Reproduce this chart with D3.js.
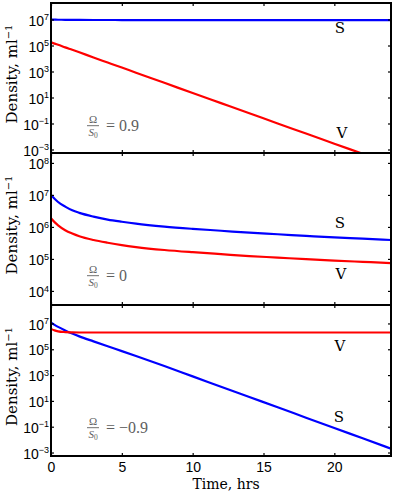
<!DOCTYPE html>
<html>
<head>
<meta charset="utf-8">
<script src="https://cdn.jsdelivr.net/npm/d3@7"></script>
<style>
  body { margin: 0; background: #fff; }
  svg { display: block; font-family: "DejaVu Serif", "Liberation Serif", serif; }
</style>
</head>
<body>
<div id="chart-area"></div>
<script>
// Time points (hrs)
var times = [0, 0.25, 0.5, 1, 1.5, 2, 3, 4, 5, 6, 8, 10, 12, 14, 16, 18, 20, 22, 24];

// Omega/S0 = 0.9
var s_pos = [1.0e7, 9.8e6, 9.6e6, 9.5e6, 9.4e6, 9.3e6, 9.2e6, 9.2e6, 9.1e6, 9.1e6, 9.0e6, 9.0e6, 9.0e6, 9.0e6, 9.0e6, 9.0e6, 9.0e6, 9.0e6, 9.0e6];
var v_pos = [1.8e5, 1.4e5, 1.15e5, 7.2e4, 4.7e4, 3.0e4, 1.2e4, 4.9e3, 2.0e3, 8.1e2, 1.35e2, 22, 3.7, 0.62, 0.10, 0.017, 2.8e-3, 4.7e-4, 7.8e-5];

// Omega/S0 = 0
var s_zero = [1.0e7, 7.6e6, 6.0e6, 4.3e6, 3.3e6, 2.75e6, 2.1e6, 1.7e6, 1.45e6, 1.26e6, 1.02e6, 8.7e5, 7.6e5, 6.6e5, 5.9e5, 5.25e5, 4.7e5, 4.3e5, 3.9e5];
var v_zero = [1.86e6, 1.41e6, 1.12e6, 7.9e5, 6.2e5, 5.1e5, 3.9e5, 3.2e5, 2.7e5, 2.35e5, 1.9e5, 1.62e5, 1.41e5, 1.23e5, 1.1e5, 9.8e4, 8.9e4, 8.1e4, 7.4e4];

// Omega/S0 = -0.9
var s_neg = [1.15e7, 7.8e6, 5.4e6, 2.9e6, 1.65e6, 1.0e6, 4.1e5, 1.7e5, 7.2e4, 3.0e4, 5.0e3, 7.9e2, 1.26e2, 20, 3.2, 0.5, 0.079, 0.0126, 0.002];
var v_neg = [3.8e6, 2.9e6, 2.45e6, 2.15e6, 2.05e6, 2.0e6, 2.0e6, 2.0e6, 2.0e6, 2.0e6, 2.0e6, 2.0e6, 2.0e6, 2.0e6, 2.0e6, 2.0e6, 2.0e6, 2.0e6, 2.0e6];

var ratios = ["0.9", "0", "\u22120.9"];
var xTicks = [0, 5, 10, 15, 20];

var width = 395, height = 494;
var left = 51, right = 391;

var panels = [
  {top: 3,   bottom: 153, lo: -3.27, hi: 8.27, exps: [-3, -1, 1, 3, 5, 7], S: s_pos,  V: v_pos,  sLab: [340, 33], vLab: [342, 138]},
  {top: 153, bottom: 305, lo: 3.56,  hi: 8.31, exps: [4, 5, 6, 7, 8],      S: s_zero, V: v_zero, sLab: [340, 228], vLab: [341, 279]},
  {top: 305, bottom: 456, lo: -3.27, hi: 8.43, exps: [-3, -1, 1, 3, 5, 7], S: s_neg,  V: v_neg,  sLab: [339, 422], vLab: [340, 351]}
];

var svg = d3.select("#chart-area").append("svg")
    .attr("width", width)
    .attr("height", height);

var x = d3.scaleLinear().domain([0, 24]).range([left, right]);

panels.forEach(function(p, i) {
  var y = d3.scaleLog()
      .domain([Math.pow(10, p.lo), Math.pow(10, p.hi)])
      .range([p.bottom, p.top]);
  var tickVals = p.exps.map(function(e) { return Math.pow(10, e); });

  var g = svg.append("g");

  g.append("clipPath").attr("id", "clip" + i)
    .append("rect")
      .attr("x", left).attr("y", p.top)
      .attr("width", right - left).attr("height", p.bottom - p.top);

  var line = d3.line()
      .x(function(d, j) { return x(times[j]); })
      .y(function(d) { return y(d); })
      .curve(d3.curveMonotoneX);

  g.append("path")
    .attr("clip-path", "url(#clip" + i + ")")
    .attr("d", line(p.S))
    .attr("fill", "none").attr("stroke", "#0000ff").attr("stroke-width", 2.2);

  g.append("path")
    .attr("clip-path", "url(#clip" + i + ")")
    .attr("d", line(p.V))
    .attr("fill", "none").attr("stroke", "#ff0000").attr("stroke-width", 2.2);

  // left axis with 10^n labels
  var yl = g.append("g")
      .attr("transform", "translate(" + left + ",0)")
      .call(d3.axisLeft(y).tickValues(tickVals).tickSize(-3).tickPadding(2).tickFormat(function() { return ""; }));
  yl.selectAll(".tick text").each(function(d, j) {
    var t = d3.select(this).attr("font-size", 14).attr("font-family", null).attr("fill", "#000").attr("dy", "0.4em");
    t.append("tspan").text("10");
    t.append("tspan").attr("dy", "-0.6em").attr("font-size", 9).text(String(p.exps[j]).replace("-", "\u2212"));
  });

  // right axis ticks
  g.append("g")
    .attr("transform", "translate(" + right + ",0)")
    .call(d3.axisRight(y).tickValues(tickVals).tickSize(-3).tickFormat(""));

  // top and bottom ticks
  g.append("g")
    .attr("transform", "translate(0," + p.top + ")")
    .call(d3.axisTop(x).tickValues(xTicks).tickSize(-3).tickFormat(""));
  var xb = g.append("g")
    .attr("transform", "translate(0," + p.bottom + ")")
    .call(d3.axisBottom(x).tickValues(xTicks).tickSize(-3).tickPadding(6));
  if (i < 2) {
    xb.selectAll(".tick text").remove();
  } else {
    xb.selectAll(".tick text").attr("font-size", 14).attr("font-family", null).attr("fill", "#000");
  }

  g.selectAll(".domain").remove();
  g.selectAll(".tick line").attr("stroke", "#000").attr("stroke-width", 1.2);

  // frame
  g.append("rect")
    .attr("x", left).attr("y", p.top)
    .attr("width", right - left).attr("height", p.bottom - p.top)
    .attr("fill", "none").attr("stroke", "#000").attr("stroke-width", 2);

  // y title
  var cy = (p.top + p.bottom) / 2 - 4;
  var yt = g.append("text")
    .attr("transform", "translate(17," + cy + ") rotate(-90)")
    .attr("text-anchor", "middle")
    .attr("font-size", 15);
  yt.append("tspan").text("Density, ml");
  yt.append("tspan").attr("dy", "-0.5em").attr("font-size", 10).text("\u22121");

  // series labels
  g.append("text").attr("x", p.sLab[0]).attr("y", p.sLab[1])
    .attr("text-anchor", "middle").attr("font-size", 15).text("S");
  g.append("text").attr("x", p.vLab[0]).attr("y", p.vLab[1])
    .attr("text-anchor", "middle").attr("font-size", 15).text("V");

  // Omega / S0 annotation
  var fy = p.top + 122.7;
  var ann = g.append("g").attr("fill", "#606060").attr("font-family", "Liberation Serif, serif");
  ann.append("text").attr("x", 93).attr("y", fy - 2.6)
    .attr("text-anchor", "middle").attr("font-size", 11).text("\u03a9");
  ann.append("line").attr("x1", 87).attr("x2", 99).attr("y1", fy).attr("y2", fy)
    .attr("stroke", "#606060").attr("stroke-width", 0.9);
  var s0 = ann.append("text").attr("x", 93).attr("y", fy + 10.2)
    .attr("text-anchor", "middle").attr("font-size", 11).attr("font-style", "italic");
  s0.append("tspan").text("S");
  s0.append("tspan").attr("dy", "0.3em").attr("font-size", 7.5).attr("font-style", "normal").text("0");
  ann.append("text").attr("x", 106).attr("y", fy + 5.5)
    .attr("font-size", 16).text("= " + ratios[i]);
});

// x title
svg.append("text")
  .attr("x", 226).attr("y", 489)
  .attr("text-anchor", "middle")
  .attr("font-size", 14)
  .text("Time, hrs");
</script>
</body>
</html>
